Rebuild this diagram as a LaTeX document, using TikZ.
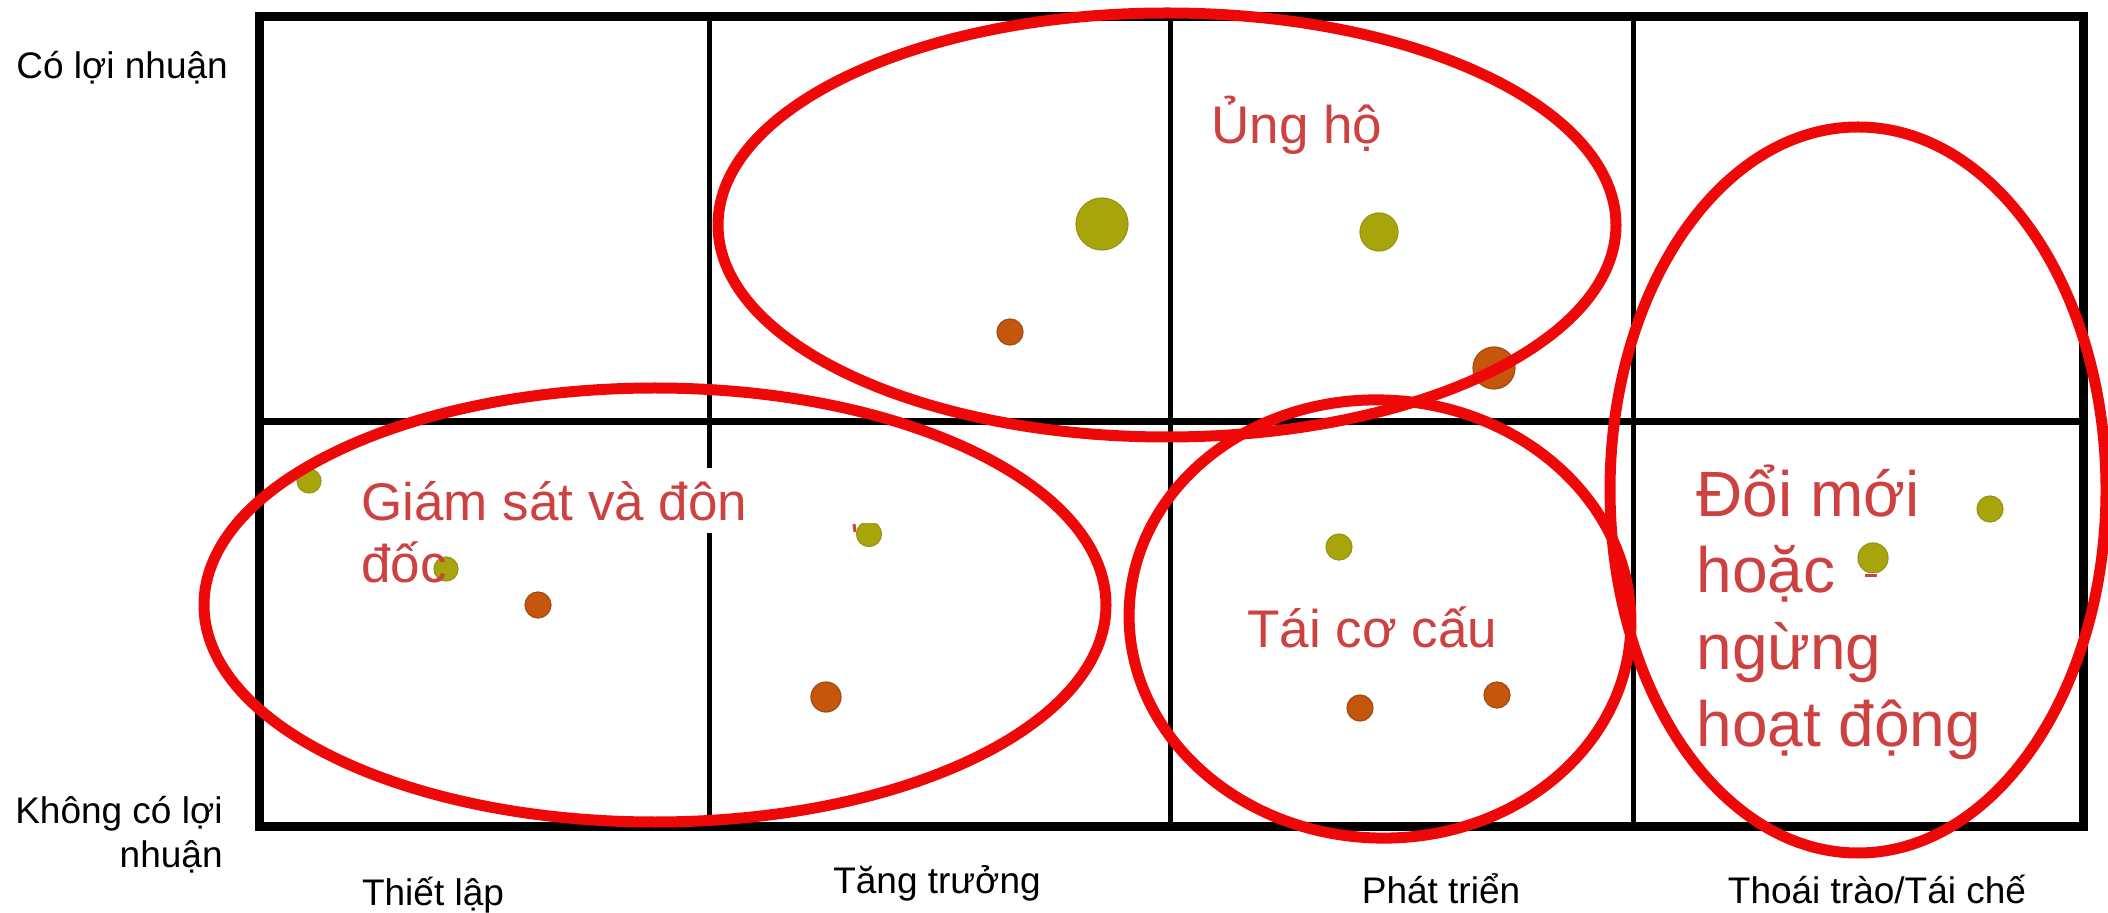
\documentclass[tikz,border=0pt]{standalone}
\usepackage{fontspec}
\setmainfont{Liberation Sans}
\definecolor{ered}{RGB}{238,8,8}
\definecolor{tred}{RGB}{205,65,65}
\definecolor{dgreen}{RGB}{168,165,12}
\definecolor{dgreenb}{RGB}{150,148,18}
\definecolor{dorange}{RGB}{198,86,12}
\definecolor{dorangeb}{RGB}{160,76,22}
\begin{document}
\begin{tikzpicture}[x=0.5pt,y=-0.5pt,
  border/.style={line width=4.5pt},
  gridline/.style={line width=2.5pt},
  midline/.style={line width=3.5pt},
  ring/.style={draw=ered, line width=5.5pt},
  gdot/.style={circle, fill=dgreen, draw=dgreenb, line width=0.6pt, inner sep=0pt},
  odot/.style={circle, fill=dorange, draw=dorangeb, line width=0.6pt, inner sep=0pt},
  axislbl/.style={inner sep=0pt, font=\fontsize{18.5}{22}\selectfont},
  redlbl/.style={inner sep=0pt, text=tred, font=\fontsize{26.5}{31}\selectfont, anchor=base west},
  biglbl/.style={inner sep=0pt, text=tred, font=\fontsize{32}{38}\selectfont, anchor=base west},
  whitebox/.style={fill=white, draw=none}
]
\useasboundingbox (0,0) rectangle (2108,913);
\fill[white] (0,0) rectangle (2108,913);

% grid
\draw[midline] (259,422) -- (2083,422);
\draw[gridline] (709,17) -- (709,826);
\draw[gridline] (1170,17) -- (1170,826);
\draw[gridline] (1633,17) -- (1633,826);
\draw[border] (259,17) rectangle (2083,826);

% dots
\node[gdot, minimum size=26pt] (g1) at (1102,224) {};
\node[gdot, minimum size=19pt] (g2) at (1379,232) {};
\node[gdot, minimum size=12pt] (g3) at (309,481) {};
\node[gdot, minimum size=12pt] (g4) at (446,569) {};
\node[gdot, minimum size=12.5pt] (g5) at (869,534) {};
\node[gdot, minimum size=13pt] (g6) at (1339,547) {};
\node[gdot, minimum size=13pt] (g7) at (1990,509) {};
\node[gdot, minimum size=15pt] (g8) at (1873,558) {};
\node[odot, minimum size=13pt] (o1) at (1010,332) {};
\node[odot, minimum size=21pt] (o2) at (1494,368) {};
\node[odot, minimum size=13pt] (o3) at (538,605) {};
\node[odot, minimum size=15pt] (o4) at (826,697) {};
\node[odot, minimum size=13pt] (o5) at (1360,708) {};
\node[odot, minimum size=13pt] (o6) at (1497,695) {};

% white text boxes
\fill[whitebox] (358,468) rectangle (817,533);
\fill[whitebox] (817,468) rectangle (895,523);
\fill[whitebox] (1843,573) rectangle (1971,620);

% ellipses
\draw[ring] (1167,225) ellipse (449 and 212);
\draw[ring] (655,605) ellipse (451 and 217);
\draw[ring, rotate around={-3:(1380,619)}] (1380,619) ellipse (251 and 219);
\draw[ring] (1858,490) ellipse (248 and 363);

% tiny red marks
\draw[tred, line width=1.5pt] (854,524) -- (855,532);
\draw[tred, line width=1.5pt] (1865,576) -- (1877,576);

% axis labels
\node[axislbl, anchor=base west] (top) at (16,79) {Có lợi nhuận};
\node[axislbl, anchor=base east] (bot1) at (223,823) {Không có lợi};
\node[axislbl, anchor=base east] (bot2) at (223,867) {nhuận};
\node[axislbl, anchor=base] (s1) at (433,905) {Thiết lập};
\node[axislbl, anchor=base] (s2) at (937,893) {Tăng trưởng};
\node[axislbl, anchor=base] (s3) at (1441,903) {Phát triển};
\node[axislbl, anchor=base] (s4) at (1877,903) {Thoái trào/Tái chế};

% red labels
\node[redlbl] (ung) at (1211,144) {Ủng hộ};
\node[redlbl] (gs1) at (361,521) {Giám sát và đôn};
\node[redlbl] (gs2) at (361,583) {đốc};
\node[redlbl] (tcc) at (1247,647) {Tái cơ cấu};
\node[biglbl] (dm1) at (1696,517) {Đổi mới};
\node[biglbl] (dm2) at (1696,593) {hoặc};
\node[biglbl] (dm3) at (1696,669) {ngừng};
\node[biglbl] (dm4) at (1696,746) {hoạt động};
\end{tikzpicture}
\end{document}
